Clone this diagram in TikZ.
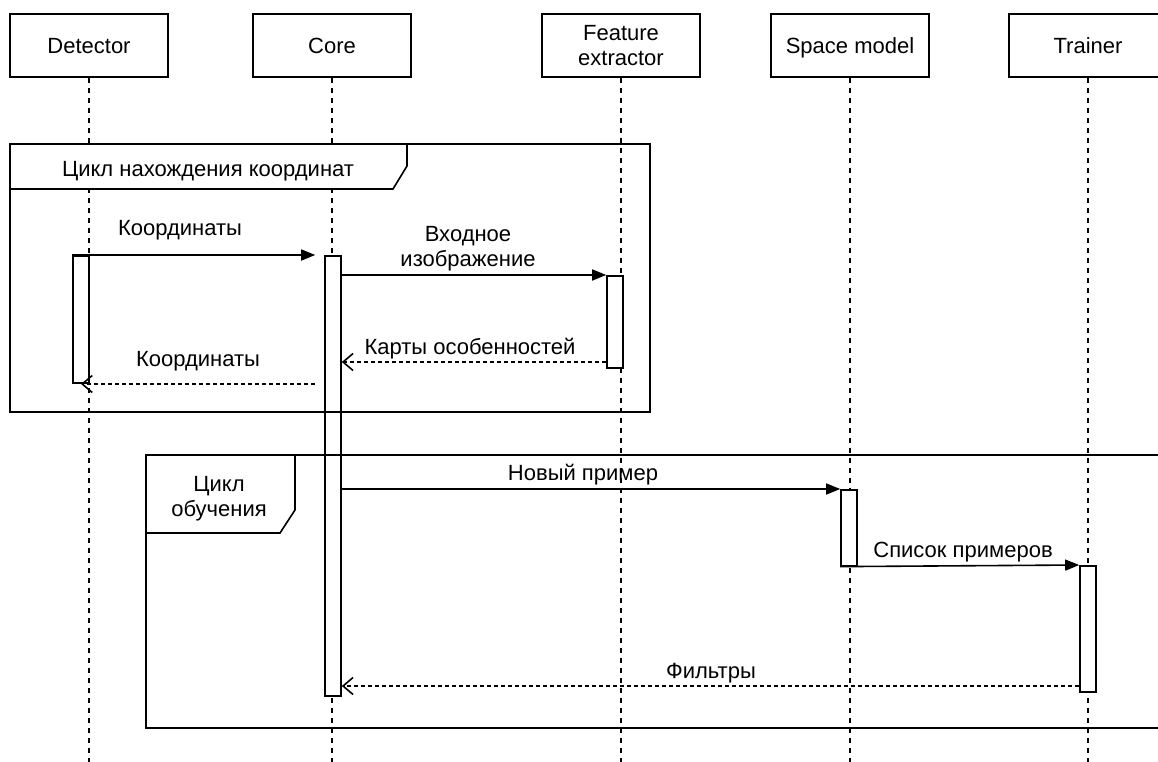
\documentclass[tikz,border=0pt]{standalone}
\usepackage{fontspec}
\setmainfont{Liberation Sans}
\usetikzlibrary{arrows.meta}

\begin{document}
\begin{tikzpicture}[x=1pt, y=-1pt, line width=1.6pt,
	every node/.style={font=\fontsize{22}{25}\selectfont, inner sep=0pt},
	actor/.style={draw, fill=white, minimum width=158pt, minimum height=63pt, align=center, text depth=-6pt},
	bar/.style={draw, fill=white, minimum width=16pt, anchor=north},
	lifeline/.style={dash pattern=on 5pt off 5pt},
	call/.style={-{Triangle[length=14pt, width=11pt]}},
	reply/.style={dash pattern=on 4pt off 3pt, -{Straight Barb[length=10pt, width=17pt]}},
	tag/.style={draw, fill=white, line join=miter}]
	\useasboundingbox (0,0) rectangle (1158,762);
	\clip (0,0) rectangle (1158,762);

	% participants
	\node[actor] (det) at (89,45.5) {Detector};
	\node[actor] (core) at (332,45.5) {Core};
	\node[actor] (fe) at (621,45.5) {Feature\\extractor};
	\node[actor] (space) at (850,45.5) {Space model};
	\node[actor] (trainer) at (1088,45.5) {Trainer};

	\coordinate (bottom) at (0,762);
	\draw[lifeline] (det.south) -- (det.south |- bottom);
	\draw[lifeline] (core.south) -- (core.south |- bottom);
	\draw[lifeline] (fe.south) -- (fe.south |- bottom);
	\draw[lifeline] (space.south) -- (space.south |- bottom);
	\draw[lifeline] (trainer.south) -- (trainer.south |- bottom);

	% activations
	\node[bar, minimum height=127pt] (detbar) at (81,255) {};
	\node[bar, minimum height=440pt] (corebar) at (333,255) {};
	\node[bar, minimum height=92pt] (febar) at (615,275) {};
	\node[bar, minimum height=76pt] (spacebar) at (849,489) {};
	\node[bar, minimum height=126pt] (trainerbar) at (1088,565) {};

	% loops
	\draw (10,144) rectangle (650,412);
	\draw[tag] (10,144) -- (407,144) -- (407,166) -- (393,189) -- (10,189) -- cycle;
	\node (loop1) at (208,171) {Цикл нахождения координат};

	\draw (146,455) rectangle (1175,728);
	\draw[tag] (146,455) -- (295,455) -- (295,510) -- (280,533) -- (146,533) -- cycle;
	\node[align=center] (loop2) at (219,499) {Цикл\\обучения};

	% messages
	\coordinate (r3) at (0,362);
	\coordinate (r4) at (0,384);
	\coordinate (r7) at (0,686);
	\draw[call, shorten >=9pt] (detbar.north west) -- (corebar.north west);
	\draw[call] (corebar.east |- febar.north) -- (febar.north west);
	\draw[reply] (febar.west |- r3) -- (corebar.east |- r3);
	\draw[reply, shorten <=9pt] (corebar.west |- r4) -- (detbar.center |- r4);
	\draw[call] (corebar.east |- spacebar.north) -- (spacebar.north west);
	\draw[call] (spacebar.south west) -- (trainerbar.north west);
	\draw[reply] (trainerbar.west |- r7) -- (corebar.east |- r7);

	\node (m1) at (180,230) {Координаты};
	\node[align=center] (m2) at (468,249) {Входное\\изображение};
	\node (m3) at (470,349) {Карты особенностей};
	\node (m4) at (198,361) {Координаты};
	\node (m5) at (583,475) {Новый пример};
	\node (m6) at (963,552) {Список примеров};
	\node (m7) at (711,673) {Фильтры};
\end{tikzpicture}
\end{document}
